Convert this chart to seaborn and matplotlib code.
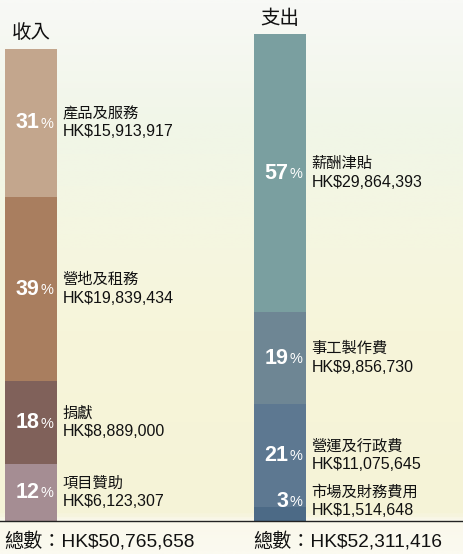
import numpy as np
import pandas as pd
import matplotlib
matplotlib.use("Agg")
import matplotlib.pyplot as plt
from matplotlib.colors import LinearSegmentedColormap
import seaborn as sns

sns.set_style("white")
plt.rcParams["font.family"] = ["Liberation Sans", "Noto Sans CJK TC"]

# data, bottom segment first
sides = ["收入", "支出"]
income_names = ["項目贊助", "捐獻", "營地及租務", "產品及服務"]
income_values = [6123307, 8889000, 19839434, 15913917]
income_colors = ["#A58D93", "#80615A", "#A97E5F", "#C3A68D"]
expense_names = ["市場及財務費用", "營運及行政費", "事工製作費", "薪酬津貼"]
expense_values = [1514648, 11075645, 9856730, 29864393]
expense_colors = ["#4C6A86", "#5D7891", "#6E8694", "#7A9FA0"]
total_label = "總數："

names = [income_names, expense_names]
values = [np.array(income_values), np.array(expense_values)]
colors = [income_colors, expense_colors]
cums = [np.cumsum(v) for v in values]

fig = plt.figure(figsize=(4.63, 5.54), dpi=100)

# soft vertical background gradient
bg = fig.add_axes([0, 0, 1, 1], zorder=-1)
bg_cmap = LinearSegmentedColormap.from_list("bg", [
    (0.0, "#F8F9F6"), (0.22, "#F1F6E8"), (0.45, "#F5F6E0"),
    (0.6, "#F7F5DA"), (0.93, "#F5F3D7"), (0.94, "#FAF8EB"), (1.0, "#FBFAF0")])
bg.imshow(np.linspace(0, 1, 300)[:, None], aspect="auto", cmap=bg_cmap,
          extent=[0, 1, 0, 1])
bg.axis("off")

ax = fig.add_axes([0, 0.0596, 1, 0.9404])
ax.set_facecolor("none")

# stacked bars: draw the tallest cumulative layer first
for k in range(3, -1, -1):
    layer = pd.DataFrame({"side": sides, "cum": [cums[0][k], cums[1][k]]})
    sns.barplot(data=layer, x="side", y="cum", hue="side", order=sides,
                hue_order=sides, palette=[colors[0][k], colors[1][k]],
                width=0.205, saturation=1, linewidth=0, errorbar=None,
                legend=False, ax=ax)

ax.set_xlim(-0.1245, 1.735)
ax.set_ylim(0, 56e6)
ax.set_xlabel("")
ax.set_ylabel("")
ax.set_yticks([])
ax.set_xticks([0.74])
ax.set_xticklabels([""])
ax.tick_params(axis="x", direction="in", length=6, width=1, color="#333333")
for s in ["top", "left", "right"]:
    ax.spines[s].set_visible(False)
ax.spines["bottom"].set_color("#222222")
ax.spines["bottom"].set_linewidth(1)

half = 0.1025
for i, side in enumerate(sides):
    total = values[i].sum()
    right = i + half
    left = i - half
    bottoms = cums[i] - values[i]
    for k in range(4):
        mid = max(bottoms[k] + values[i][k] / 2, 2.1e6)
        pct = round(values[i][k] / total * 100)
        ax.annotate(f"{pct}", (right, mid), xytext=(-17, 0),
                    textcoords="offset pixels", ha="right", va="center",
                    color="white", fontsize=15.5, fontweight="bold")
        ax.annotate("%", (right, mid), xytext=(-3, -1),
                    textcoords="offset pixels", ha="right", va="center",
                    color="white", fontsize=10.5)
        ax.annotate(names[i][k], (right, mid), xytext=(6, 9),
                    textcoords="offset pixels", ha="left", va="center",
                    color="#111111", fontsize=11)
        ax.annotate(f"HK${values[i][k]:,}", (right, mid), xytext=(6, -9),
                    textcoords="offset pixels", ha="left", va="center",
                    color="#111111", fontsize=11.5)
    ax.annotate(side, (i, total), xytext=(0, 16), textcoords="offset pixels",
                ha="center", va="center", color="#111111", fontsize=14)
    ax.annotate(f"{total_label}HK${total:,}", (left, 0), xytext=(-1, -20),
                textcoords="offset pixels", ha="left", va="center",
                color="#111111", fontsize=13.8, annotation_clip=False)

fig.savefig("out.png", dpi=100)
